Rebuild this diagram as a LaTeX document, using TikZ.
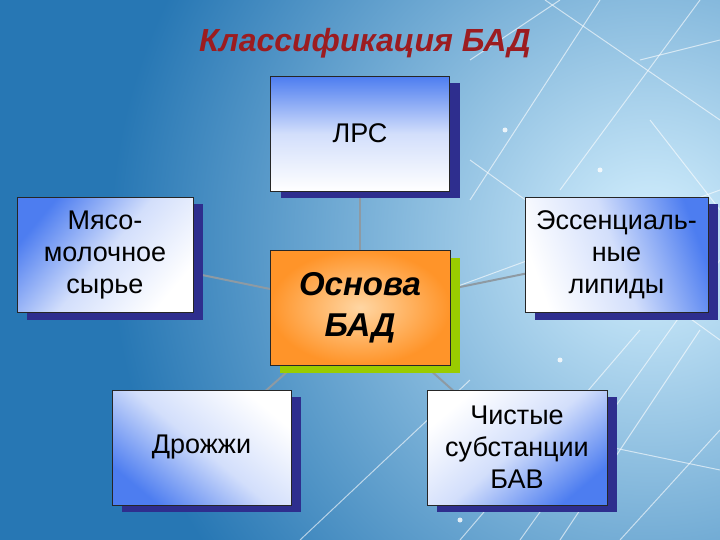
\documentclass[tikz,border=0pt]{standalone}
\usepackage{fontspec}
\setmainfont{Liberation Sans}
\usetikzlibrary{positioning}
\usetikzlibrary{shadows}
\usetikzlibrary{calc}
\definecolor{skydark}{HTML}{2777B4}
\definecolor{skylight}{HTML}{D6F1FF}
\definecolor{boxblue}{HTML}{4D7DF0}
\definecolor{shadowblue}{HTML}{2E2E8E}
\definecolor{basegreen}{HTML}{9ACC00}
\definecolor{baseorange}{HTML}{FF9429}
\definecolor{basepale}{HTML}{FFD6A3}
\definecolor{titlered}{HTML}{9C1C20}
\definecolor{linkgrey}{HTML}{8E9AA3}
\pgfdeclarelayer{badsky}
\pgfdeclarelayer{badlinks}
\pgfsetlayers{badsky,badlinks,main}

\tikzset{
  leafbox/.style={draw=black!85, line width=0.8pt, minimum width=179pt, minimum height=115pt,
    align=center, font=\fontsize{27}{32}\selectfont,
    top color=boxblue, bottom color=white, middle color=boxblue!25!white,
    drop shadow={shadow xshift=10pt, shadow yshift=-7pt, fill=shadowblue, opacity=1}},
  basebox/.style={draw=black!85, line width=0.8pt, minimum width=180pt, minimum height=115pt,
    align=center, font=\fontsize{33}{41}\selectfont\bfseries\itshape,
    inner color=basepale, outer color=baseorange,
    drop shadow={shadow xshift=10pt, shadow yshift=-8pt, fill=basegreen, opacity=1}},
  link/.style={draw=linkgrey, line width=2pt},
  ray/.style={draw=white, line width=1pt, opacity=0.6},
}

\begin{document}
\begin{tikzpicture}[x=1pt,y=-1pt]
\useasboundingbox (0,0) rectangle (720,540);

% Sky
\begin{pgfonlayer}{badsky}
\fill[skydark] (0,0) rectangle (720,540);
\begin{scope}
\clip (0,0) rectangle (720,540);
\shade[inner color=skylight, outer color=skydark] (650,240) circle (540);
\foreach \xa/\ya/\xb/\yb in {545/0/720/120, 600/0/470/200, 700/0/560/190, 640/60/720/40,
  470/160/720/340, 520/540/720/260, 460/540/640/330, 620/540/720/430, 700/330/560/540,
  470/60/560/0, 300/540/470/380, 420/300/720/190, 650/120/720/210, 480/420/720/470}
  \draw[ray] (\xa,\ya) -- (\xb,\yb);
\foreach \sx/\sy in {600/170, 430/440, 505/130, 690/300, 560/360, 460/520}
  \fill[white, opacity=0.8] (\sx,\sy) circle (2.5);
\end{scope}
\end{pgfonlayer}

% Title
\node[font=\fontsize{32}{36}\selectfont\bfseries\itshape, text=titlered] (title) at (365,43) {Классификация БАД};

% Boxes
\node[basebox] (base) at (360,307.5) {Основа\\БАД};
\node[leafbox, above=58pt of base] (lrs) {ЛРС};
\node[leafbox, minimum width=176pt, shading angle=50] (meat) at (105,255) {Мясо-\\молочное\\сырье};
\node[leafbox, minimum width=183pt, shading angle=-70] (lipid) at (616.5,255) {Эссенциаль-\\ные\\липиды};
\node[leafbox, shading angle=140] (yeast) at (201.5,447.5) {Дрожжи};
\node[leafbox, minimum width=180pt, shading angle=-140] (pure) at (517,447.5) {Чистые\\субстанции\\БАВ};

% Connections
\begin{pgfonlayer}{badlinks}
\draw[link] (base.center) -- (lrs.center);
\draw[link] (base.center) -- (meat.center);
\draw[link] (base.center) -- (lipid.center);
\draw[link] (base.center) -- (yeast.center);
\draw[link] (base.center) -- (pure.center);
\end{pgfonlayer}

\end{tikzpicture}
\end{document}
